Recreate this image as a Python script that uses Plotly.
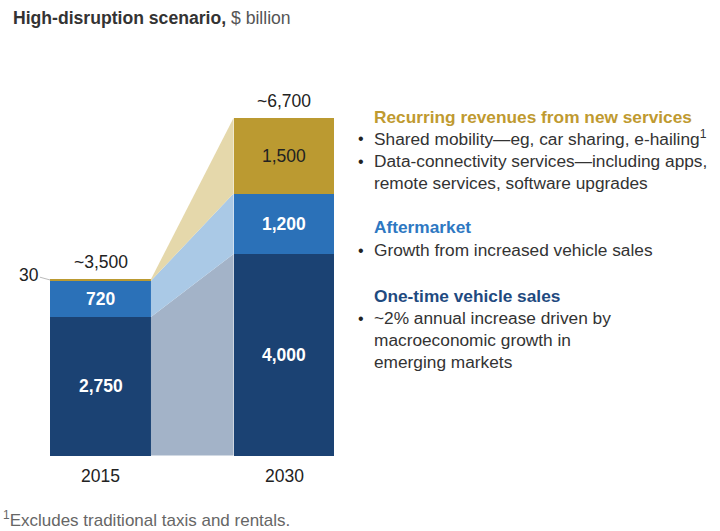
import plotly.graph_objects as go

# datos
years = ["2015", "2030"]
vehicle_sales = [2750, 4000]
aftermarket = [720, 1200]
new_services = [30, 1500]
totals = ["~3,500", "~6,700"]

COLORS = {
    "vehicle": "#1b4273",
    "after": "#2b71b8",
    "services": "#bb9a31",
    "vehicle_lt": "#a3b3c8",
    "after_lt": "#aac9e6",
    "services_lt": "#e5d8ab",
}
FONT = "Liberation Sans, Arial, sans-serif"
W, H = 720, 531

# escala en pixeles: centro barra 2015 en 100.5, paso 183.5; base en 455.5
X0, DX = 100.5, 183.5
Y0, KY = 455.5, 0.05037
BW = 0.55
FS = 17.3

xs = [0, 1]
cum1 = vehicle_sales
cum2 = [a + b for a, b in zip(vehicle_sales, aftermarket)]
cum3 = [a + b for a, b in zip(cum2, new_services)]

fig = go.Figure()

# bandas de conexion entre barras
xe = [xs[0] + BW / 2, xs[1] - BW / 2]
fig.add_trace(go.Scatter(x=xe, y=[0, 0], mode="lines", line=dict(width=0),
                         showlegend=False, hoverinfo="skip"))
for ys, col in [(cum1, "vehicle_lt"), (cum2, "after_lt"), (cum3, "services_lt")]:
    fig.add_trace(go.Scatter(x=xe, y=ys, mode="lines", line=dict(width=0),
                             fill="tonexty", fillcolor=COLORS[col],
                             showlegend=False, hoverinfo="skip"))

# barras apiladas
fig.add_trace(go.Bar(x=xs, y=vehicle_sales, width=BW, marker_color=COLORS["vehicle"],
                     marker_line_width=0, showlegend=False))
fig.add_trace(go.Bar(x=xs, y=aftermarket, width=BW, marker_color=COLORS["after"],
                     marker_line_width=0, showlegend=False))
fig.add_trace(go.Bar(x=xs, y=new_services, width=BW, marker_color=COLORS["services"],
                     marker_line_width=0, showlegend=False))

# etiquetas dentro de las barras
for i in range(2):
    fig.add_annotation(x=xs[i], y=vehicle_sales[i] / 2, text=f"<b>{vehicle_sales[i]:,}</b>",
                       showarrow=False, font=dict(color="white", size=17.5, family=FONT))
    fig.add_annotation(x=xs[i], y=cum1[i] + aftermarket[i] / 2, text=f"<b>{aftermarket[i]:,}</b>",
                       showarrow=False, font=dict(color="white", size=17.5, family=FONT))
    fig.add_annotation(x=xs[i], y=cum3[i], text=totals[i], yanchor="bottom", yshift=5,
                       showarrow=False, font=dict(color="#222", size=17.5, family=FONT))
    fig.add_annotation(x=xs[i], y=0, text=years[i], yanchor="top", yshift=-8,
                       showarrow=False, font=dict(color="#222", size=17.5, family=FONT))

fig.add_annotation(x=xs[1], y=cum2[1] + new_services[1] / 2, text=f"{new_services[1]:,}",
                   showarrow=False, font=dict(color="#222", size=17.5, family=FONT))

# etiqueta del 30 con linea guia
fig.add_annotation(x=-0.325, y=3580, text=f"{new_services[0]}", xanchor="right",
                   showarrow=False, font=dict(color="#222", size=17.5, family=FONT))
fig.add_shape(type="line", x0=-0.33, y0=3540, x1=-0.275, y1=cum2[0] + new_services[0] / 2,
              line=dict(color="#bbbbbb", width=1))

# panel derecho
def px(x, y):
    return x / W, 1 - y / H

panel = [
    ("head", "Recurring revenues from new services", "#bf9a30", 117),
    ("bullet", "Shared mobility—eg, car sharing, e-hailing<sup>1</sup>", None, 138),
    ("bullet", "Data-connectivity services—including apps,", None, 161),
    ("line", "remote services, software upgrades", None, 183),
    ("head", "Aftermarket", "#2e78c2", 227),
    ("bullet", "Growth from increased vehicle sales", None, 250),
    ("head", "One-time vehicle sales", "#1f4a80", 296),
    ("bullet", "~2% annual increase driven by", None, 318),
    ("line", "macroeconomic growth in", None, 340),
    ("line", "emerging markets", None, 362),
]
for kind, txt, col, y in panel:
    xp, yp = px(372, y)
    if kind == "head":
        txt = f"<b>{txt}</b>"
        color = col
    else:
        color = "#333"
    fig.add_annotation(xref="paper", yref="paper", x=xp, y=yp, text=txt,
                       xanchor="left", yanchor="middle", showarrow=False,
                       font=dict(color=color, size=FS, family=FONT))
    if kind == "bullet":
        bx, by = px(356, y)
        fig.add_annotation(xref="paper", yref="paper", x=bx, y=by, text="•",
                           xanchor="left", yanchor="middle", showarrow=False,
                           font=dict(color="#222", size=16, family=FONT))

# titulo y nota al pie
tx, ty = px(11, 18)
fig.add_annotation(xref="paper", yref="paper", x=tx, y=ty,
                   text="<b>High-disruption scenario,</b> <span style='color:#555'>$ billion</span>",
                   xanchor="left", yanchor="middle", showarrow=False,
                   font=dict(color="#333", size=17.6, family=FONT))
fx, fy = px(1, 519)
fig.add_annotation(xref="paper", yref="paper", x=fx, y=fy,
                   text="<sup>1</sup>Excludes traditional taxis and rentals.",
                   xanchor="left", yanchor="middle", showarrow=False,
                   font=dict(color="#666", size=17, family=FONT))

fig.update_layout(
    width=W, height=H, barmode="stack", bargap=0,
    margin=dict(l=0, r=0, t=0, b=0),
    paper_bgcolor="white", plot_bgcolor="white",
    xaxis=dict(range=[-X0 / DX, (W - X0) / DX], visible=False, fixedrange=True),
    yaxis=dict(range=[(Y0 - H) / KY, Y0 / KY], visible=False, fixedrange=True),
    font=dict(family=FONT),
)

# quitar el margen por defecto del body para que la figura ocupe la ventana
fig.write_html("out.html", config={"displayModeBar": False},
               post_script="document.body.style.margin='0';document.body.style.overflow='hidden';")
